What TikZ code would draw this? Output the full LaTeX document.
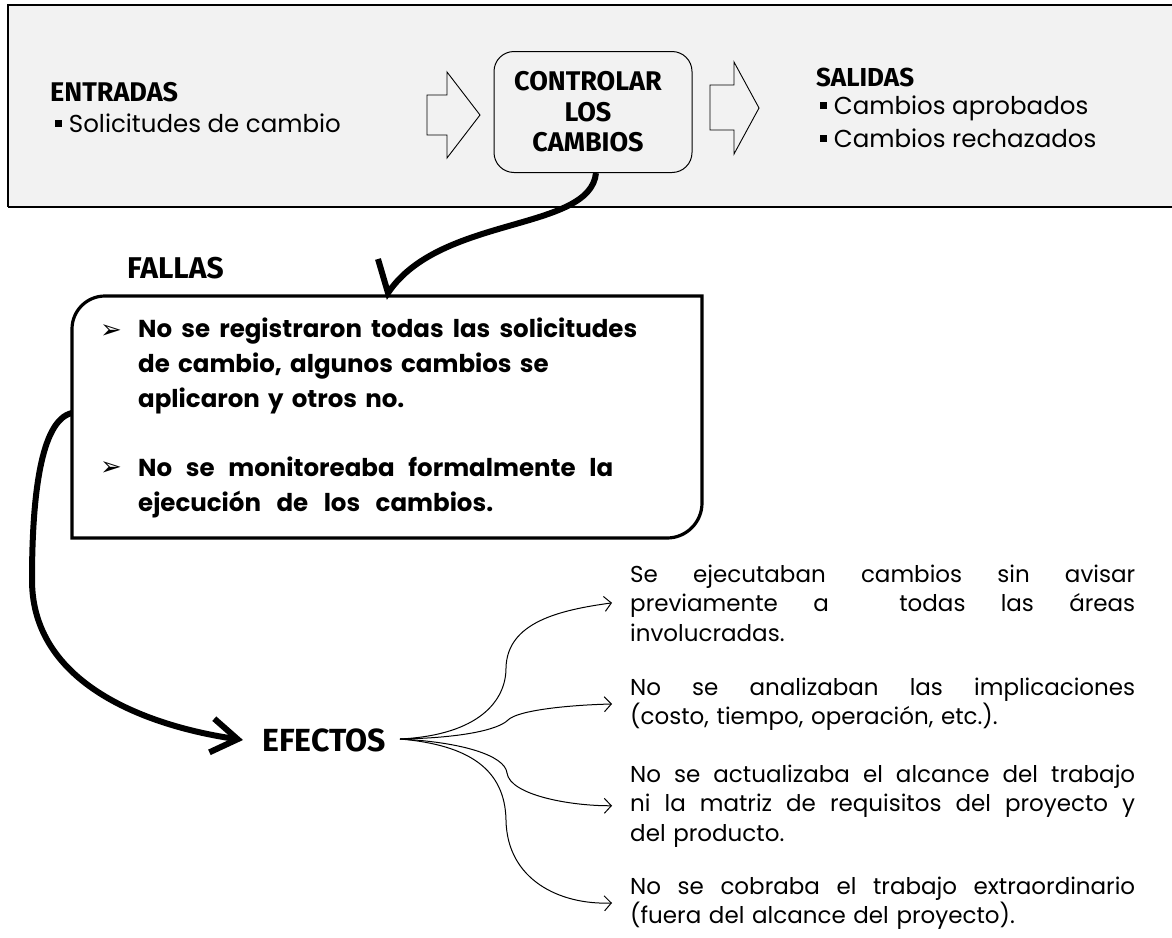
\documentclass[tikz,border=0pt]{standalone}
\usepackage{fontspec}
\usepackage{graphicx}
\setmainfont{Poppins}
\newfontfamily\hfont{Fira Sans}
\newfontfamily\dingfont{DejaVu Sans}
\usetikzlibrary{arrows.meta}
\definecolor{panelgray}{HTML}{F2F2F2}
\newcommand{\sqbul}{\rule[0.22em]{0.26em}{0.26em}\hspace{0.3em}}
\newsavebox\fitbox
% set a line to an exact width by stretching its spaces (shrink glyphs if too long)
\newcommand{\fitline}[2]{\sbox\fitbox{#2}\ifdim\wd\fitbox>#1\relax\resizebox{#1}{!}{\usebox\fitbox}\else\makebox[#1][s]{\spaceskip=0.28em plus 1fil\relax #2}\fi}
\begin{document}
\begin{tikzpicture}[x=1pt,y=-1pt,
  hdr/.style={font=\hfont\bfseries\fontsize{27}{30}\selectfont, inner sep=0pt},
  plain/.style={font=\fontsize{24.5}{30}\selectfont, inner sep=0pt},
  effect/.style={font=\fontsize{23}{29.5}\selectfont, inner sep=0pt, text width=505pt, align=left, anchor=base west},
  fallas/.style={font=\bfseries\fontsize{24.5}{35}\selectfont, inner sep=0pt, text width=560pt, align=left, anchor=base west},
  bul/.style={inner sep=0pt, font=\dingfont\fontsize{26}{26}\selectfont},
  hollow/.style={draw=black, line width=0.9pt, fill=panelgray, line join=miter},
  thickline/.style={line width=6pt, line join=miter},
  thin/.style={line width=1pt, -{Straight Barb[length=7pt,width=15pt]}},
]
\useasboundingbox (0,0) rectangle (1172,937);
\fill[white] (0,0) rectangle (1172,937);
% top panel
\fill[panelgray] (8,5) rectangle (1172,207);
\draw[line width=1.5pt] (1172,5) -- (8,5) -- (8,207);
\draw[line width=2pt] (8,207) -- (1172,207);

\node[hdr, anchor=west] (ent) at (50,92) {ENTRADAS};
\node[plain, anchor=west] (sol) at (55,123) {\sqbul Solicitudes de cambio};

\draw[hollow] (427,95) -- (447,95) -- (447,72) -- (480,115) -- (447,158) -- (447,135) -- (427,135) -- cycle;

\node[draw, line width=1pt, rounded corners=20pt, fill=panelgray, minimum width=198pt, minimum height=121pt] (ctl) at (593,112) {};
\node[align=center, inner sep=0pt, font=\hfont\bfseries\fontsize{27}{30.5}\selectfont] (ctltext) at (588,112) {CONTROLAR\\LOS\\CAMBIOS};

\draw[hollow] (710,85) -- (734,85) -- (734,62) -- (759,108) -- (734,154) -- (734,130) -- (710,130) -- cycle;

\node[hdr, font=\hfont\bfseries\fontsize{26}{30}\selectfont, anchor=west] (sal) at (816,77) {SALIDAS};
\node[plain, anchor=west] (ap) at (820,108) {\sqbul Cambios aprobados};
\node[plain, anchor=west] (re) at (820,138) {\sqbul Cambios rechazados};

% fallas
\node[hdr, font=\hfont\bfseries\fontsize{30}{34}\selectfont, anchor=west] (fl) at (127,268) {FALLAS};
\draw[line width=3.2pt] (72,538) -- (72,329) arc(180:270:33) -- (702,296) -- (702,503) arc(0:90:35) -- cycle;
\coordinate (boxtop) at (388,293);
\coordinate (boxleft) at (72,413);

\node[bul] (b1) at (111,332) {➢};
\node[fallas] (f1) at (138,337) {\fitline{499pt}{No se registraron todas las solicitudes}\\de cambio, algunos cambios se\\aplicaron y otros no.};
\node[bul] (b2) at (111,469) {➢};
\node[fallas] (f2) at (138,476) {\fitline{475pt}{No se monitoreaba formalmente la}\\\fitline{355pt}{ejecución de los cambios.}};

% thick connectors
\draw[thickline] ([xshift=3pt]ctl.south) .. controls (590,232) and (440,215) .. (boxtop) -- (378,259);

\node[inner sep=0pt, font=\hfont\bfseries\fontsize{32}{36}\selectfont, anchor=west] (efe) at (262,740) {EFECTOS};
\draw[line width=6pt, -{Straight Barb[length=26pt,width=34pt]}] (boxleft) .. controls (40,420) and (32,500) .. (32,580) .. controls (32,690) and (160,728) .. ([xshift=-19pt]efe.west);

% effects
\node[effect] (e1) at (630,582) {\fitline{505pt}{Se ejecutaban cambios sin avisar}\\\fitline{505pt}{previamente a\ \ todas las áreas}\\involucradas.};
\node[effect] (e2) at (630,695) {\fitline{505pt}{No se analizaban las implicaciones}\\(costo, tiempo, operación, etc.).};
\node[effect] (e3) at (630,782) {\fitline{505pt}{No se actualizaba el alcance del trabajo}\\\fitline{505pt}{ni la matriz de requisitos del proyecto y}\\del producto.};
\node[effect] (e4) at (630,894) {\fitline{505pt}{No se cobraba el trabajo extraordinario}\\(fuera del alcance del proyecto).};

\coordinate (hub) at (400,739);
\draw[thin] (hub) .. controls (480,735) and (506,700) .. (506,668) .. controls (507,622) and (560,610) .. ([xshift=-18pt]e1.west);
\draw[thin] (hub) .. controls (460,738) and (498,730) .. (508,720) .. controls (518,710) and (570,705) .. ([xshift=-18pt]e2.west);
\draw[thin] (hub) .. controls (460,742) and (505,755) .. (507,773) .. controls (510,795) and (570,806) .. ([xshift=-18pt]e3.west);
\draw[thin] (hub) .. controls (470,745) and (505,770) .. (506,820) .. controls (507,880) and (560,905) .. ([xshift=-18pt]e4.west);
\end{tikzpicture}
\end{document}
